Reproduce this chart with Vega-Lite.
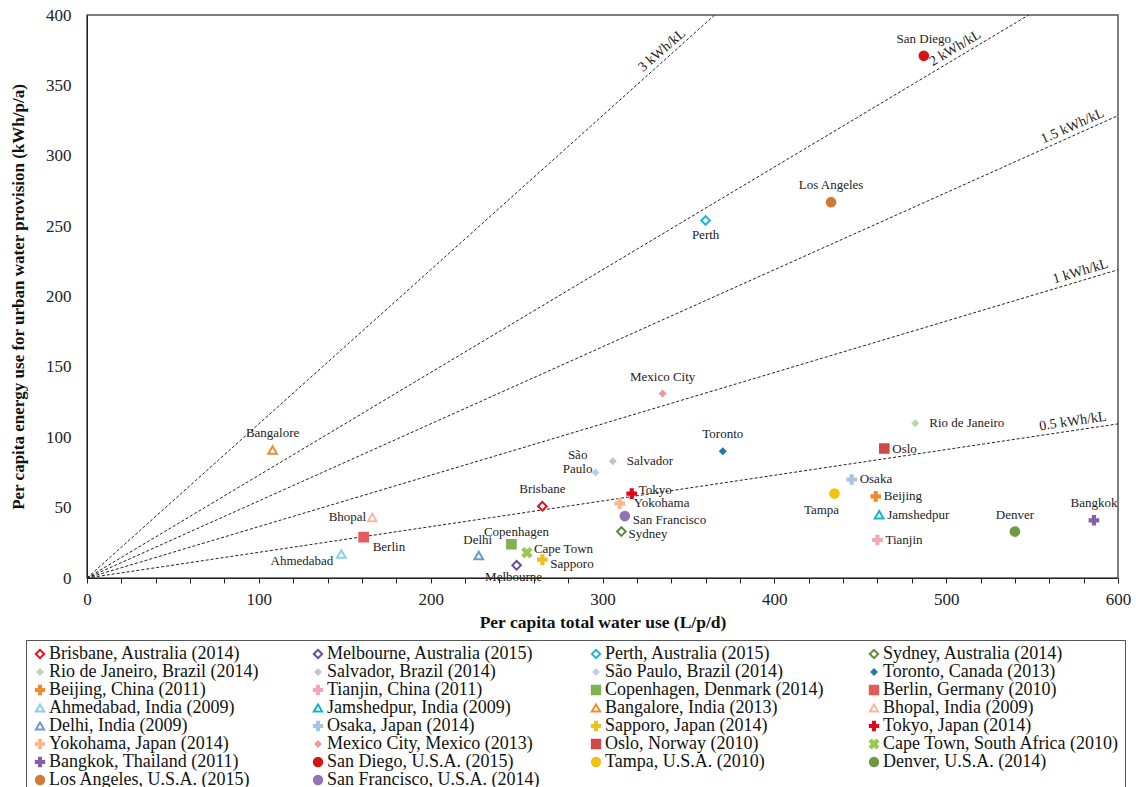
{
  "$schema": "https://vega.github.io/schema/vega-lite/v6.json",
  "width": 1031,
  "height": 563,
  "autosize": {"type": "none"},
  "padding": {"left": 87, "top": 15, "right": 18, "bottom": 209},
  "background": "white",
  "config": {
    "font": "Liberation Serif",
    "view": {"stroke": "#555", "strokeWidth": 1.5},
    "axis": {"grid": false, "labelFont": "Liberation Serif", "titleFont": "Liberation Serif", "labelFontSize": 17, "labelColor": "#222", "titleColor": "#111", "domainColor": "#222", "tickColor": "#222", "titleFontWeight": "bold"}
  },
  "datasets": {
    "pts": [
      {"city": "Brisbane", "legend": "Brisbane, Australia (2014)", "water": 265, "energy": 51},
      {"city": "Melbourne", "legend": "Melbourne, Australia (2015)", "water": 250, "energy": 9},
      {"city": "Perth", "legend": "Perth, Australia (2015)", "water": 360, "energy": 254},
      {"city": "Sydney", "legend": "Sydney, Australia (2014)", "water": 311, "energy": 33},
      {"city": "Rio de Janeiro", "legend": "Rio de Janeiro, Brazil (2014)", "water": 482, "energy": 110},
      {"city": "Salvador", "legend": "Salvador, Brazil (2014)", "water": 306, "energy": 83},
      {"city": "São Paulo", "legend": "São Paulo, Brazil (2014)", "water": 296, "energy": 75},
      {"city": "Toronto", "legend": "Toronto, Canada (2013)", "water": 370, "energy": 90},
      {"city": "Beijing", "legend": "Beijing, China (2011)", "water": 459, "energy": 58},
      {"city": "Tianjin", "legend": "Tianjin, China (2011)", "water": 460, "energy": 27},
      {"city": "Copenhagen", "legend": "Copenhagen, Denmark (2014)", "water": 247, "energy": 24},
      {"city": "Berlin", "legend": "Berlin, Germany (2010)", "water": 161, "energy": 29},
      {"city": "Ahmedabad", "legend": "Ahmedabad, India (2009)", "water": 148, "energy": 17},
      {"city": "Jamshedpur", "legend": "Jamshedpur, India (2009)", "water": 461, "energy": 45},
      {"city": "Bangalore", "legend": "Bangalore, India (2013)", "water": 108, "energy": 91},
      {"city": "Bhopal", "legend": "Bhopal, India (2009)", "water": 166, "energy": 43},
      {"city": "Delhi", "legend": "Delhi, India (2009)", "water": 228, "energy": 16},
      {"city": "Osaka", "legend": "Osaka, Japan (2014)", "water": 445, "energy": 70},
      {"city": "Sapporo", "legend": "Sapporo, Japan (2014)", "water": 265, "energy": 13},
      {"city": "Tokyo", "legend": "Tokyo, Japan (2014)", "water": 317, "energy": 60},
      {"city": "Yokohama", "legend": "Yokohama, Japan (2014)", "water": 310, "energy": 53},
      {"city": "Mexico City", "legend": "Mexico City, Mexico (2013)", "water": 335, "energy": 131},
      {"city": "Oslo", "legend": "Oslo, Norway (2010)", "water": 464, "energy": 92},
      {"city": "Cape Town", "legend": "Cape Town, South Africa (2010)", "water": 256, "energy": 18},
      {"city": "Bangkok", "legend": "Bangkok, Thailand (2011)", "water": 586, "energy": 41},
      {"city": "San Diego", "legend": "San Diego, U.S.A. (2015)", "water": 487, "energy": 371},
      {"city": "Tampa", "legend": "Tampa, U.S.A. (2010)", "water": 435, "energy": 60},
      {"city": "Denver", "legend": "Denver, U.S.A. (2014)", "water": 540, "energy": 33},
      {"city": "Los Angeles", "legend": "Los Angeles, U.S.A. (2015)", "water": 433, "energy": 267},
      {"city": "San Francisco", "legend": "San Francisco, U.S.A. (2014)", "water": 313, "energy": 44}
    ],
    "lines": [
      {"kwh": "3 kWh/kL", "water": 0, "energy": 0},
      {"kwh": "3 kWh/kL", "water": 365.3, "energy": 400},
      {"kwh": "2 kWh/kL", "water": 0, "energy": 0},
      {"kwh": "2 kWh/kL", "water": 548, "energy": 400},
      {"kwh": "1.5 kWh/kL", "water": 0, "energy": 0},
      {"kwh": "1.5 kWh/kL", "water": 600, "energy": 328.5},
      {"kwh": "1 kWh/kL", "water": 0, "energy": 0},
      {"kwh": "1 kWh/kL", "water": 600, "energy": 219},
      {"kwh": "0.5 kWh/kL", "water": 0, "energy": 0},
      {"kwh": "0.5 kWh/kL", "water": 600, "energy": 109.5}
    ],
    "reflabels": [
      {"kwh": "3 kWh/kL", "water": 338, "energy": 370},
      {"kwh": "2 kWh/kL", "water": 508, "energy": 371},
      {"kwh": "1.5 kWh/kL", "water": 575.7, "energy": 315.2},
      {"kwh": "1 kWh/kL", "water": 579.7, "energy": 211.6},
      {"kwh": "0.5 kWh/kL", "water": 574.5, "energy": 104.9}
    ]
  },
  "encoding": {
    "x": {"field": "water", "type": "quantitative", "scale": {"domain": [0, 600], "nice": false, "zero": false},
      "axis": {"title": "Per capita total water use (L/p/d)", "titleFontSize": 17.5, "values": [0,20,40,60,80,100,120,140,160,180,200,220,240,260,280,300,320,340,360,380,400,420,440,460,480,500,520,540,560,580,600], "labelExpr": "datum.value % 100 === 0 ? datum.label : ''", "tickSize": 5, "labelPadding": 8, "titlePadding": 6, "labelFlush": false, "labelOverlap": false}},
    "y": {"field": "energy", "type": "quantitative", "scale": {"domain": [0, 400], "nice": false, "zero": false},
      "axis": {"title": "Per capita energy use for urban water provision (kWh/p/a)", "titleFontSize": 17, "values": [0,50,100,150,200,250,300,350,400], "ticks": false, "tickSize": 0, "labelPadding": 16, "titlePadding": 18, "labelFlush": false, "labelOverlap": false}}
  },
  "layer": [
    {
      "data": {"name": "lines"},
      "mark": {"type": "line", "strokeDash": [3, 2], "color": "#222", "strokeWidth": 1, "clip": true},
      "encoding": {"detail": {"field": "kwh"}}
    },
    {
      "data": {"name": "reflabels"},
      "transform": [{"filter": {"field": "kwh", "equal": "3 kWh/kL"}}],
      "mark": {"type": "text", "fontSize": 14, "color": "#222", "align": "center", "baseline": "bottom", "dy": -2, "angle": 319},
      "encoding": {"text": {"field": "kwh"}}
    },
    {
      "data": {"name": "reflabels"},
      "transform": [{"filter": {"field": "kwh", "equal": "2 kWh/kL"}}],
      "mark": {"type": "text", "fontSize": 14, "color": "#222", "align": "center", "baseline": "bottom", "dy": -2, "angle": 329},
      "encoding": {"text": {"field": "kwh"}}
    },
    {
      "data": {"name": "reflabels"},
      "transform": [{"filter": {"field": "kwh", "equal": "1.5 kWh/kL"}}],
      "mark": {"type": "text", "fontSize": 14, "color": "#222", "align": "center", "baseline": "bottom", "dy": -2, "angle": 336},
      "encoding": {"text": {"field": "kwh"}}
    },
    {
      "data": {"name": "reflabels"},
      "transform": [{"filter": {"field": "kwh", "equal": "1 kWh/kL"}}],
      "mark": {"type": "text", "fontSize": 14, "color": "#222", "align": "center", "baseline": "bottom", "dy": -2, "angle": 343.3},
      "encoding": {"text": {"field": "kwh"}}
    },
    {
      "data": {"name": "reflabels"},
      "transform": [{"filter": {"field": "kwh", "equal": "0.5 kWh/kL"}}],
      "mark": {"type": "text", "fontSize": 14, "color": "#222", "align": "center", "baseline": "bottom", "dy": -2, "angle": 351.5},
      "encoding": {"text": {"field": "kwh"}}
    },
    {
      "data": {"name": "pts"},
      "mark": {"type": "point", "size": 75, "strokeWidth": 2, "opacity": 1, "fillOpacity": 1, "strokeOpacity": 1},
      "encoding": {
        "stroke": {"field": "legend", "type": "nominal",
          "scale": {"domain": ["Brisbane, Australia (2014)","Melbourne, Australia (2015)","Perth, Australia (2015)","Sydney, Australia (2014)","Rio de Janeiro, Brazil (2014)","Salvador, Brazil (2014)","São Paulo, Brazil (2014)","Toronto, Canada (2013)","Beijing, China (2011)","Tianjin, China (2011)","Copenhagen, Denmark (2014)","Berlin, Germany (2010)","Ahmedabad, India (2009)","Jamshedpur, India (2009)","Bangalore, India (2013)","Bhopal, India (2009)","Delhi, India (2009)","Osaka, Japan (2014)","Sapporo, Japan (2014)","Tokyo, Japan (2014)","Yokohama, Japan (2014)","Mexico City, Mexico (2013)","Oslo, Norway (2010)","Cape Town, South Africa (2010)","Bangkok, Thailand (2011)","San Diego, U.S.A. (2015)","Tampa, U.S.A. (2010)","Denver, U.S.A. (2014)","Los Angeles, U.S.A. (2015)","San Francisco, U.S.A. (2014)"],
            "range": ["#e3101f","#6b4a8e","#22b5d3","#5f8a3c","#bcd5b0","#c3c0cf","#bfcde2","#2078a8","#f28a2e","#f2a7b5","#82b055","#e55a5a","#8dcfe3","#12b5c9","#e8902e","#f5b9a2","#6a9bd0","#a9c2de","#f0c020","#e00a1a","#f9b98c","#ea9a9a","#d24848","#9bc852","#8560a8","#d41515","#f2c212","#6c9b41","#d27a32","#9272b8"]},
          "legend": {"title": null, "orient": "none", "direction": "horizontal", "legendX": -61, "legendY": 625, "columns": 4, "gridAlign": "all", "columnPadding": 23, "rowPadding": -1.5, "padding": 5, "strokeColor": "#555", "labelFont": "Liberation Serif", "labelFontSize": 18, "labelColor": "#111", "labelLimit": 400, "symbolSize": 70, "symbolStrokeWidth": 2, "labelOffset": 0}},
        "fill": {"field": "legend", "type": "nominal",
          "scale": {"domain": ["Brisbane, Australia (2014)","Melbourne, Australia (2015)","Perth, Australia (2015)","Sydney, Australia (2014)","Rio de Janeiro, Brazil (2014)","Salvador, Brazil (2014)","São Paulo, Brazil (2014)","Toronto, Canada (2013)","Beijing, China (2011)","Tianjin, China (2011)","Copenhagen, Denmark (2014)","Berlin, Germany (2010)","Ahmedabad, India (2009)","Jamshedpur, India (2009)","Bangalore, India (2013)","Bhopal, India (2009)","Delhi, India (2009)","Osaka, Japan (2014)","Sapporo, Japan (2014)","Tokyo, Japan (2014)","Yokohama, Japan (2014)","Mexico City, Mexico (2013)","Oslo, Norway (2010)","Cape Town, South Africa (2010)","Bangkok, Thailand (2011)","San Diego, U.S.A. (2015)","Tampa, U.S.A. (2010)","Denver, U.S.A. (2014)","Los Angeles, U.S.A. (2015)","San Francisco, U.S.A. (2014)"],
            "range": ["#ffffff","#ffffff","#ffffff","#ffffff","#bcd5b0","#c3c0cf","#bfcde2","#2078a8","#f28a2e","#f2a7b5","#82b055","#e55a5a","#ffffff","#ffffff","#ffffff","#ffffff","#ffffff","#a9c2de","#f0c020","#e00a1a","#f9b98c","#ea9a9a","#d24848","#9bc852","#8560a8","#d41515","#f2c212","#6c9b41","#d27a32","#9272b8"]},
          "legend": {"title": null, "orient": "none", "direction": "horizontal", "legendX": -61, "legendY": 625, "columns": 4, "gridAlign": "all", "columnPadding": 23, "rowPadding": -1.5, "padding": 5, "strokeColor": "#555", "labelFont": "Liberation Serif", "labelFontSize": 18, "labelColor": "#111", "labelLimit": 400, "symbolSize": 70, "symbolStrokeWidth": 2, "labelOffset": 0}},
        "shape": {"field": "legend", "type": "nominal",
          "scale": {"domain": ["Brisbane, Australia (2014)","Melbourne, Australia (2015)","Perth, Australia (2015)","Sydney, Australia (2014)","Rio de Janeiro, Brazil (2014)","Salvador, Brazil (2014)","São Paulo, Brazil (2014)","Toronto, Canada (2013)","Beijing, China (2011)","Tianjin, China (2011)","Copenhagen, Denmark (2014)","Berlin, Germany (2010)","Ahmedabad, India (2009)","Jamshedpur, India (2009)","Bangalore, India (2013)","Bhopal, India (2009)","Delhi, India (2009)","Osaka, Japan (2014)","Sapporo, Japan (2014)","Tokyo, Japan (2014)","Yokohama, Japan (2014)","Mexico City, Mexico (2013)","Oslo, Norway (2010)","Cape Town, South Africa (2010)","Bangkok, Thailand (2011)","San Diego, U.S.A. (2015)","Tampa, U.S.A. (2010)","Denver, U.S.A. (2014)","Los Angeles, U.S.A. (2015)","San Francisco, U.S.A. (2014)"],
            "range": ["diamond","diamond","diamond","diamond",
              "M0,-0.6L0.6,0L0,0.6L-0.6,0Z","M0,-0.6L0.6,0L0,0.6L-0.6,0Z","M0,-0.6L0.6,0L0,0.6L-0.6,0Z","M0,-0.6L0.6,0L0,0.6L-0.6,0Z",
              "M-1,-0.25L-0.25,-0.25L-0.25,-1L0.25,-1L0.25,-0.25L1,-0.25L1,0.25L0.25,0.25L0.25,1L-0.25,1L-0.25,0.25L-1,0.25Z",
              "M-1,-0.25L-0.25,-0.25L-0.25,-1L0.25,-1L0.25,-0.25L1,-0.25L1,0.25L0.25,0.25L0.25,1L-0.25,1L-0.25,0.25L-1,0.25Z",
              "square","square",
              "triangle-up","triangle-up","triangle-up","triangle-up","triangle-up",
              "M-1,-0.25L-0.25,-0.25L-0.25,-1L0.25,-1L0.25,-0.25L1,-0.25L1,0.25L0.25,0.25L0.25,1L-0.25,1L-0.25,0.25L-1,0.25Z",
              "M-1,-0.25L-0.25,-0.25L-0.25,-1L0.25,-1L0.25,-0.25L1,-0.25L1,0.25L0.25,0.25L0.25,1L-0.25,1L-0.25,0.25L-1,0.25Z",
              "M-1,-0.25L-0.25,-0.25L-0.25,-1L0.25,-1L0.25,-0.25L1,-0.25L1,0.25L0.25,0.25L0.25,1L-0.25,1L-0.25,0.25L-1,0.25Z",
              "M-1,-0.25L-0.25,-0.25L-0.25,-1L0.25,-1L0.25,-0.25L1,-0.25L1,0.25L0.25,0.25L0.25,1L-0.25,1L-0.25,0.25L-1,0.25Z",
              "M0,-0.6L0.6,0L0,0.6L-0.6,0Z",
              "square",
              "M-1,-0.6L-0.6,-1L0,-0.4L0.6,-1L1,-0.6L0.4,0L1,0.6L0.6,1L0,0.4L-0.6,1L-1,0.6L-0.4,0Z",
              "M-1,-0.25L-0.25,-0.25L-0.25,-1L0.25,-1L0.25,-0.25L1,-0.25L1,0.25L0.25,0.25L0.25,1L-0.25,1L-0.25,0.25L-1,0.25Z",
              "circle","circle","circle","circle","circle"]},
          "legend": {"title": null, "orient": "none", "direction": "horizontal", "legendX": -61, "legendY": 625, "columns": 4, "gridAlign": "all", "columnPadding": 23, "rowPadding": -1.5, "padding": 5, "strokeColor": "#555", "labelFont": "Liberation Serif", "labelFontSize": 18, "labelColor": "#111", "labelLimit": 400, "symbolSize": 70, "symbolStrokeWidth": 2, "labelOffset": 0}}
      }
    },
    {
      "data": {"name": "pts"},
      "transform": [{"filter": {"field": "city", "oneOf": ["San Diego", "Los Angeles", "Mexico City", "Toronto", "Bangalore", "Brisbane", "Bangkok", "Denver"]}}],
      "mark": {"type": "text", "fontSize": 13, "color": "#222", "align": "center", "baseline": "middle", "dy": -17},
      "encoding": {"text": {"field": "city"}}
    },
    {
      "data": {"name": "pts"},
      "transform": [{"filter": {"field": "city", "equal": "Delhi"}}],
      "mark": {"type": "text", "fontSize": 13, "color": "#222", "align": "center", "baseline": "middle", "dx": -1, "dy": -15},
      "encoding": {"text": {"field": "city"}}
    },
    {
      "data": {"name": "pts"},
      "transform": [{"filter": {"field": "city", "equal": "Copenhagen"}}],
      "mark": {"type": "text", "fontSize": 13, "color": "#222", "align": "center", "baseline": "middle", "dx": 5, "dy": -12},
      "encoding": {"text": {"field": "city"}}
    },
    {
      "data": {"name": "pts"},
      "transform": [{"filter": {"field": "city", "equal": "Perth"}}],
      "mark": {"type": "text", "fontSize": 13, "color": "#222", "align": "center", "baseline": "middle", "dy": 15},
      "encoding": {"text": {"field": "city"}}
    },
    {
      "data": {"name": "pts"},
      "transform": [{"filter": {"field": "city", "equal": "Tampa"}}],
      "mark": {"type": "text", "fontSize": 13, "color": "#222", "align": "center", "baseline": "middle", "dx": -13, "dy": 16},
      "encoding": {"text": {"field": "city"}}
    },
    {
      "data": {"name": "pts"},
      "transform": [{"filter": {"field": "city", "equal": "Melbourne"}}],
      "mark": {"type": "text", "fontSize": 13, "color": "#222", "align": "center", "baseline": "middle", "dx": -3, "dy": 12},
      "encoding": {"text": {"field": "city"}}
    },
    {
      "data": {"name": "pts"},
      "transform": [{"filter": {"field": "city", "oneOf": ["Oslo", "Osaka", "Beijing", "Jamshedpur", "Tianjin"]}}],
      "mark": {"type": "text", "fontSize": 13, "color": "#222", "align": "left", "baseline": "middle", "dx": 8, "dy": 0},
      "encoding": {"text": {"field": "city"}}
    },
    {
      "data": {"name": "pts"},
      "transform": [{"filter": {"field": "city", "equal": "Sydney"}}],
      "mark": {"type": "text", "fontSize": 13, "color": "#222", "align": "left", "baseline": "middle", "dx": 7, "dy": 2},
      "encoding": {"text": {"field": "city"}}
    },
    {
      "data": {"name": "pts"},
      "transform": [{"filter": {"field": "city", "oneOf": ["Tokyo", "Cape Town"]}}],
      "mark": {"type": "text", "fontSize": 13, "color": "#222", "align": "left", "baseline": "middle", "dx": 7, "dy": -4},
      "encoding": {"text": {"field": "city"}}
    },
    {
      "data": {"name": "pts"},
      "transform": [{"filter": {"field": "city", "oneOf": ["San Francisco", "Sapporo"]}}],
      "mark": {"type": "text", "fontSize": 13, "color": "#222", "align": "left", "baseline": "middle", "dx": 8, "dy": 4},
      "encoding": {"text": {"field": "city"}}
    },
    {
      "data": {"name": "pts"},
      "transform": [{"filter": {"field": "city", "oneOf": ["Salvador", "Yokohama", "Rio de Janeiro"]}}],
      "mark": {"type": "text", "fontSize": 13, "color": "#222", "align": "left", "baseline": "middle", "dx": 14, "dy": 0},
      "encoding": {"text": {"field": "city"}}
    },
    {
      "data": {"name": "pts"},
      "transform": [{"filter": {"field": "city", "equal": "Berlin"}}],
      "mark": {"type": "text", "fontSize": 13, "color": "#222", "align": "left", "baseline": "middle", "dx": 9, "dy": 10},
      "encoding": {"text": {"field": "city"}}
    },
    {
      "data": {"name": "pts"},
      "transform": [{"filter": {"field": "city", "equal": "Bhopal"}}],
      "mark": {"type": "text", "fontSize": 13, "color": "#222", "align": "right", "baseline": "middle", "dx": -6, "dy": 0},
      "encoding": {"text": {"field": "city"}}
    },
    {
      "data": {"name": "pts"},
      "transform": [{"filter": {"field": "city", "equal": "Ahmedabad"}}],
      "mark": {"type": "text", "fontSize": 13, "color": "#222", "align": "right", "baseline": "middle", "dx": -8, "dy": 7},
      "encoding": {"text": {"field": "city"}}
    },
    {
      "data": {"name": "pts"},
      "transform": [{"filter": {"field": "city", "equal": "São Paulo"}}],
      "mark": {"type": "text", "fontSize": 13, "color": "#222", "align": "center", "baseline": "middle", "dx": -18, "dy": -17, "lineBreak": " ", "lineHeight": 14},
      "encoding": {"text": {"field": "city"}}
    }
  ]
}
